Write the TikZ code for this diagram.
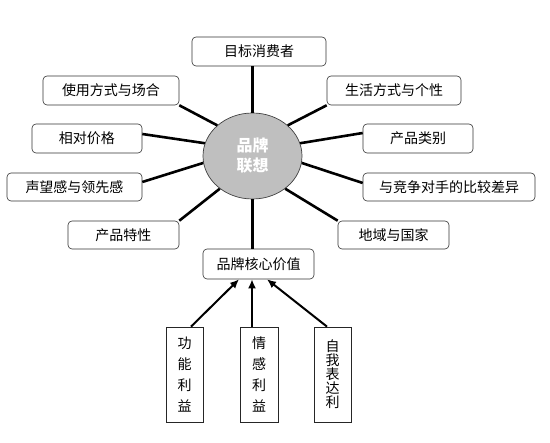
\documentclass[tikz,border=0pt]{standalone}
\usepackage{fontspec}
\setmainfont{Noto Sans CJK SC}
\usepackage{tikz}
\usetikzlibrary{arrows}
\usetikzlibrary{arrows.meta}
\usetikzlibrary{shapes.geometric}
\begin{document}
\begin{tikzpicture}[x=1pt,y=-1pt,>={Latex[length=9pt,width=8pt]}]
% — styles ––––––––––––––––––––––––––
\tikzstyle{assocbox}=[draw=black!80,line width=0.6pt,rounded corners=4pt,inner sep=0pt,minimum height=29pt,font=\fontsize{14pt}{16pt}\selectfont]
\tikzstyle{spoke}   =[line width=2.6pt]
\tikzstyle{benefit} =[draw=black!85,line width=0.7pt,inner sep=0pt,minimum width=37pt,minimum height=95pt,align=center]
\tikzstyle{lift}    =[->,line width=2pt]

\useasboundingbox (0,0) rectangle (550,443);

% --- centre ellipse -------------------------------------------
\node[ellipse,draw=black!75,line width=0.7pt,fill=black!25,minimum width=99pt,minimum height=86pt,
      text=white,align=center,font=\bfseries\fontsize{16pt}{20pt}\selectfont] (assoc) at (252.5,156) {品牌\\联想};

% --- association boxes ----------------------------------------
\node[assocbox,minimum width=134pt] (mubiao)    at (259,51.5)   {目标消费者};
\node[assocbox,minimum width=136pt] (shiyong)   at (111,90.5)   {使用方式与场合};
\node[assocbox,minimum width=134pt] (shenghuo)  at (394,90.5)   {生活方式与个性};
\node[assocbox,minimum width=110pt] (xiangdui)  at (87,138.5)   {相对价格};
\node[assocbox,minimum width=110pt] (leibie)    at (418,138.5)  {产品类别};
\node[assocbox,minimum width=135pt,minimum height=28pt] (shengwang) at (74.5,187) {声望感与领先感};
\node[assocbox,minimum width=172pt,minimum height=28pt] (jingzheng) at (449,187)  {与竞争对手的比较差异};
\node[assocbox,minimum width=111pt,minimum height=28pt] (texing)    at (123.5,235) {产品特性};
\node[assocbox,minimum width=111pt,minimum height=28pt] (diyu)      at (393.5,235) {地域与国家};
\node[assocbox,minimum width=111pt,minimum height=30pt] (hexin)     at (258.5,264) {品牌核心价值};

% --- spokes ---------------------------------------------------
\draw[spoke] (assoc.north) -- (assoc.north |- mubiao.south);
\draw[spoke] (assoc.south) -- (assoc.south |- hexin.north);
\draw[spoke] (shiyong.south east) -- (assoc.139);
\draw[spoke] (shenghuo.south west) -- (assoc.41);
\draw[spoke] ([yshift=4.5pt]xiangdui.east) -- (assoc.165);
\draw[spoke] ([yshift=5.5pt]leibie.west) -- (assoc.15);
\draw[spoke] ([yshift=5pt]shengwang.east) -- (assoc.188);
\draw[spoke] ([yshift=4pt]jingzheng.west) -- (assoc.352);
\draw[spoke] (texing.north east) -- (assoc.225);
\draw[spoke] (diyu.north west) -- (assoc.315);

% --- benefit columns ------------------------------------------
\node[benefit,font=\fontsize{14pt}{21pt}\selectfont] (gongneng) at (184.5,374.5) {功\\能\\利\\益};
\node[benefit,minimum width=38pt,font=\fontsize{14pt}{21pt}\selectfont] (qinggan) at (259,374.5) {情\\感\\利\\益};
\node[benefit,font=\fontsize{14pt}{14pt}\selectfont] (ziwo) at (332.5,374.5) {自\\我\\表\\达\\利};

% --- arrows into core value -----------------------------------
\draw[lift] ([xshift=6.5pt]gongneng.north) -- ([xshift=-19.5pt]hexin.south);
\draw[lift] ([xshift=-7pt]qinggan.north) -- ([xshift=-6.5pt]hexin.south);
\draw[lift] ([xshift=-5.5pt]ziwo.north) -- ([xshift=8.5pt]hexin.south);

\end{tikzpicture}
\end{document}
